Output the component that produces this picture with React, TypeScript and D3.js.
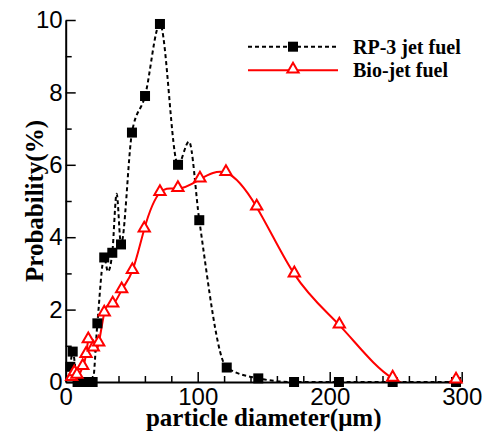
import React, { useEffect, useRef } from "react";
import * as d3 from "d3";

// RP-3 jet fuel: measured profile (diameter µm, probability %); rp3Marked flags the sampled bins shown with symbols
const rp3Diameter = [3.5, 5.3, 9, 14.5, 20.4, 24, 29.2, 32, 35.3, 38.6, 41.9, 50.2, 60.1, 71.4, 85.1, 93.4, 101.2, 122, 145.9, 173, 207, 247.7, 295.7];
const rp3Probability = [0.42, 0.84, 0, 0, 0, 1.62, 3.44, 3.05, 3.57, 5.2, 3.8, 6.89, 7.9, 9.89, 6.0, 6.64, 4.47, 0.4, 0.1, 0, 0, 0, 0];
const rp3Marked = [1, 1, 1, 1, 1, 1, 1, 0, 1, 0, 1, 1, 1, 1, 1, 0, 1, 1, 1, 1, 1, 1, 1];

// Bio-jet fuel
const bioDiameter = [4.5, 6.5, 8.5, 12.9, 15.4, 17.1, 20.9, 25, 29.2, 35.6, 42.4, 50.5, 59.5, 71.4, 85, 101.7, 121.4, 144.7, 173.2, 207.3, 247.7, 295.7];
const bioProbability = [0.12, 0.25, 0.18, 0.42, 0.75, 1.16, 0.93, 1.07, 1.9, 2.15, 2.54, 3.07, 4.22, 5.23, 5.34, 5.6, 5.78, 4.83, 2.98, 1.57, 0.1, 0.05];

const xMajorTicks = [0, 100, 200, 300];
const yMajorTicks = [0, 2, 4, 6, 8, 10];
const seriesNames = ["RP-3 jet fuel", "Bio-jet fuel"];

const W = 483;
const H = 432;
const left = 65.7;
const right = 461.7;
const top = 20;
const bottom = 382;

// Natural cubic spline with y as a function of x, emitted as Bézier segments
function curveSplineX(context: any) {
  let xs: number[] = [];
  let ys: number[] = [];
  return {
    areaStart() {},
    areaEnd() {},
    lineStart() {
      xs = [];
      ys = [];
    },
    point(x: number, y: number) {
      xs.push(+x);
      ys.push(+y);
    },
    lineEnd() {
      const n = xs.length;
      if (!n) return;
      context.moveTo(xs[0], ys[0]);
      if (n === 1) return;
      if (n === 2) {
        context.lineTo(xs[1], ys[1]);
        return;
      }
      const h: number[] = [];
      for (let i = 0; i < n - 1; i++) h.push(xs[i + 1] - xs[i]);
      const M = new Array(n).fill(0);
      const m = n - 2;
      const a = new Array(m).fill(0);
      const b = new Array(m).fill(0);
      const c = new Array(m).fill(0);
      const d = new Array(m).fill(0);
      for (let k = 0; k < m; k++) {
        const i = k + 1;
        a[k] = h[i - 1];
        b[k] = 2 * (h[i - 1] + h[i]);
        c[k] = h[i];
        d[k] = 6 * ((ys[i + 1] - ys[i]) / h[i] - (ys[i] - ys[i - 1]) / h[i - 1]);
      }
      for (let k = 1; k < m; k++) {
        const w = a[k] / b[k - 1];
        b[k] -= w * c[k - 1];
        d[k] -= w * d[k - 1];
      }
      const sol = new Array(m).fill(0);
      sol[m - 1] = d[m - 1] / b[m - 1];
      for (let k = m - 2; k >= 0; k--) sol[k] = (d[k] - c[k] * sol[k + 1]) / b[k];
      for (let k = 0; k < m; k++) M[k + 1] = sol[k];
      for (let i = 0; i < n - 1; i++) {
        const hi = h[i];
        const s = (ys[i + 1] - ys[i]) / hi;
        const m0 = s - (hi * (2 * M[i] + M[i + 1])) / 6;
        const m1 = s + (hi * (M[i] + 2 * M[i + 1])) / 6;
        context.bezierCurveTo(
          xs[i] + hi / 3,
          ys[i] + (m0 * hi) / 3,
          xs[i + 1] - hi / 3,
          ys[i + 1] - (m1 * hi) / 3,
          xs[i + 1],
          ys[i + 1]
        );
      }
    },
  };
}

export default function App() {
  const ref = useRef<SVGSVGElement | null>(null);

  useEffect(() => {
    const svg = d3.select(ref.current);
    svg.selectAll("*").remove();

    const x = d3.scaleLinear().domain([0, 300]).range([left, right]);
    const y = d3.scaleLinear().domain([0, 10]).range([bottom, top]);

    svg
      .append("defs")
      .append("clipPath")
      .attr("id", "plot-clip")
      .append("rect")
      .attr("x", left)
      .attr("y", top - 5)
      .attr("width", right - left + 2)
      .attr("height", bottom - top + 5);

    const rp3 = rp3Diameter.map((d, i) => [d, rp3Probability[i]] as [number, number]);
    const rp3Symbols = rp3.filter((_, i) => rp3Marked[i]);
    const bio = bioDiameter.map((d, i) => [d, bioProbability[i]] as [number, number]);

    const bioLine = d3
      .line<[number, number]>()
      .x((d) => x(d[0]))
      .y((d) => y(d[1]))
      .curve(curveSplineX as any);

    const rp3Line = d3
      .line<[number, number]>()
      .x((d) => x(d[0]))
      .y((d) => y(d[1]))
      .curve(d3.curveMonotoneX);

    const lines = svg.append("g").attr("clip-path", "url(#plot-clip)");
    lines
      .append("path")
      .attr("d", bioLine(bio))
      .attr("fill", "none")
      .attr("stroke", "#ff0000")
      .attr("stroke-width", 2);
    lines
      .append("path")
      .attr("d", rp3Line(rp3))
      .attr("fill", "none")
      .attr("stroke", "#000")
      .attr("stroke-width", 2)
      .attr("stroke-dasharray", "4,3");

    // Axes with inward ticks
    const xMinor = d3.range(0, 301, 20).filter((v) => v % 100 !== 0);
    const yMinor = d3.range(1, 10, 2);

    const gx = svg.append("g").attr("transform", `translate(0,${bottom})`);
    gx.call(
      d3
        .axisBottom(x)
        .tickValues(xMajorTicks)
        .tickSizeInner(-10)
        .tickSizeOuter(0)
        .tickPadding(7)
        .tickFormat(d3.format("d") as any)
    );
    const gxm = svg.append("g").attr("transform", `translate(0,${bottom})`);
    gxm.call(d3.axisBottom(x).tickValues(xMinor).tickSizeInner(-6).tickSizeOuter(0).tickFormat(() => ""));
    gxm.select(".domain").remove();

    const gy = svg.append("g").attr("transform", `translate(${left},0)`);
    gy.call(
      d3
        .axisLeft(y)
        .tickValues(yMajorTicks)
        .tickSizeInner(-10)
        .tickSizeOuter(0)
        .tickPadding(3)
        .tickFormat(d3.format("d") as any)
    );
    const gym = svg.append("g").attr("transform", `translate(${left},0)`);
    gym.call(d3.axisLeft(y).tickValues(yMinor).tickSizeInner(-6).tickSizeOuter(0).tickFormat(() => ""));
    gym.select(".domain").remove();

    [gx, gy].forEach((g) => {
      g.select(".domain").attr("stroke", "#000").attr("stroke-width", 2);
      g.selectAll(".tick text")
        .attr("font-family", "'Liberation Sans', Arial, sans-serif")
        .attr("font-size", 24)
        .attr("fill", "#000");
    });
    gx.selectAll(".tick text").attr("dy", "0.68em");
    [gx, gy, gxm, gym].forEach((g) => {
      g.selectAll(".tick line").attr("stroke", "#000").attr("stroke-width", 1.5);
    });

    // Markers
    const sq = 10;
    svg
      .append("g")
      .selectAll("rect")
      .data(rp3Symbols)
      .join("rect")
      .attr("x", (d) => x(d[0]) - sq / 2)
      .attr("y", (d) => y(d[1]) - sq / 2)
      .attr("width", sq)
      .attr("height", sq)
      .attr("fill", "#000");

    const tri = d3.symbol().type(d3.symbolTriangle).size(55);
    svg
      .append("g")
      .selectAll("path")
      .data(bio)
      .join("path")
      .attr("d", tri() as string)
      .attr("transform", (d) => `translate(${x(d[0])},${y(d[1]) - 1})`)
      .attr("fill", "#fff")
      .attr("stroke", "#ff0000")
      .attr("stroke-width", 2);

    // Axis titles
    svg
      .append("text")
      .attr("x", (left + right) / 2)
      .attr("y", 426)
      .attr("text-anchor", "middle")
      .attr("font-family", "'Liberation Serif', 'Times New Roman', serif")
      .attr("font-weight", "bold")
      .attr("font-size", 25)
      .attr("fill", "#000")
      .text("particle diameter(μm)");

    svg
      .append("text")
      .attr("transform", `translate(43,${(top + bottom) / 2}) rotate(-90)`)
      .attr("text-anchor", "middle")
      .attr("font-family", "'Liberation Serif', 'Times New Roman', serif")
      .attr("font-weight", "bold")
      .attr("font-size", 25)
      .attr("fill", "#000")
      .text("Probability(%)");

    // Legend
    const lg = svg.append("g");
    const rows = [46.7, 70.3];
    lg.append("line")
      .attr("x1", 248).attr("x2", 338).attr("y1", rows[0]).attr("y2", rows[0])
      .attr("stroke", "#000").attr("stroke-width", 2).attr("stroke-dasharray", "4,3");
    lg.append("rect")
      .attr("x", 293 - sq / 2).attr("y", rows[0] - sq / 2).attr("width", sq).attr("height", sq).attr("fill", "#000");
    lg.append("line")
      .attr("x1", 248).attr("x2", 338).attr("y1", rows[1]).attr("y2", rows[1])
      .attr("stroke", "#ff0000").attr("stroke-width", 2);
    lg.append("path")
      .attr("d", tri() as string)
      .attr("transform", `translate(293,${rows[1] - 1})`)
      .attr("fill", "#fff").attr("stroke", "#ff0000").attr("stroke-width", 2);
    seriesNames.forEach((name, i) => {
      lg.append("text")
        .attr("x", 353)
        .attr("y", rows[i] + 7)
        .attr("font-family", "'Liberation Serif', 'Times New Roman', serif")
        .attr("font-weight", "bold")
        .attr("font-size", 20)
        .attr("fill", "#000")
        .text(name);
    });
  }, []);

  return (
    <svg
      ref={ref}
      width={W}
      height={H}
      style={{ position: "absolute", left: 0, top: 0, background: "#fff" }}
    />
  );
}
